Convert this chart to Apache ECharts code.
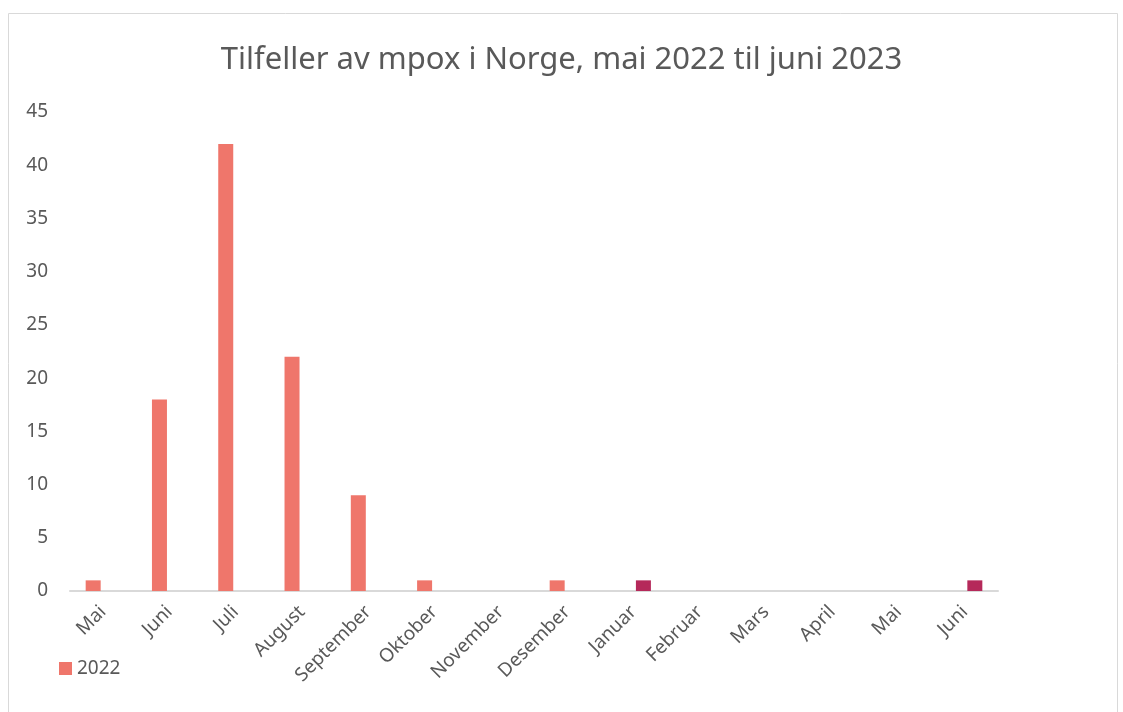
<!DOCTYPE html>
<html>
<head>
<meta charset="utf-8">
<script src="https://cdn.jsdelivr.net/npm/echarts@6/dist/echarts.min.js"></script>
<style>
  html, body { margin: 0; padding: 0; background: #fff; }
  #main { width: 1123px; height: 712px; }
</style>
</head>
<body>
<div id="main"></div>
<script>
// måneder mai 2022 - juni 2023
const categories = ['Mai', 'Juni', 'Juli', 'August', 'September', 'Oktober', 'November',
  'Desember', 'Januar', 'Februar', 'Mars', 'April', 'Mai', 'Juni'];
const cases2022 = [1, 18, 42, 22, 9, 1, 0, 1, '-', '-', '-', '-', '-', '-'];
const cases2023 = ['-', '-', '-', '-', '-', '-', '-', '-', 1, 0, 0, 0, 0, 1];
const yTicks = [0, 5, 10, 15, 20, 25, 30, 35, 40, 45];

const textColor = '#595959';
const font = 'Noto Sans';

const myChart = echarts.init(document.getElementById('main'));

const option = {
  animation: false,
  title: {
    text: 'Tilfeller av mpox i Norge, mai 2022 til juni 2023',
    left: 'center',
    top: 40,
    textStyle: { color: textColor, fontSize: 31, fontWeight: 'normal', fontFamily: font }
  },
  legend: {
    data: ['2022'],
    left: 54,
    top: 654,
    icon: 'rect',
    itemWidth: 13,
    itemHeight: 13,
    itemGap: 6,
    textStyle: { color: textColor, fontSize: 19, fontFamily: font }
  },
  grid: { left: 70, right: 125, top: 112, bottom: 121 },
  xAxis: {
    type: 'category',
    data: categories,
    axisTick: { show: false },
    axisLine: { lineStyle: { color: '#d9d9d9', width: 2 } },
    axisLabel: {
      color: textColor,
      fontSize: 19,
      fontFamily: font,
      rotate: 45,
      interval: 0,
      margin: 18
    }
  },
  yAxis: {
    type: 'value',
    min: yTicks[0],
    max: yTicks[yTicks.length - 1],
    interval: 5,
    axisLine: { show: false },
    axisTick: { show: false },
    splitLine: { show: false },
    axisLabel: { color: textColor, fontSize: 19, fontFamily: font, margin: 22 }
  },
  series: [
    {
      name: '2022',
      type: 'bar',
      data: cases2022,
      barWidth: 15,
      barGap: '33%',
      itemStyle: { color: '#ef766b' }
    },
    {
      name: '2023',
      type: 'bar',
      data: cases2023,
      barWidth: 15,
      itemStyle: { color: '#b5295a' }
    }
  ],
  graphic: [{
    type: 'rect',
    silent: true,
    shape: { x: 8.5, y: 13.5, width: 1109, height: 720 },
    style: { fill: 'none', stroke: '#d9d9d9', lineWidth: 1 }
  }]
};

myChart.setOption(option);
</script>
</body>
</html>
